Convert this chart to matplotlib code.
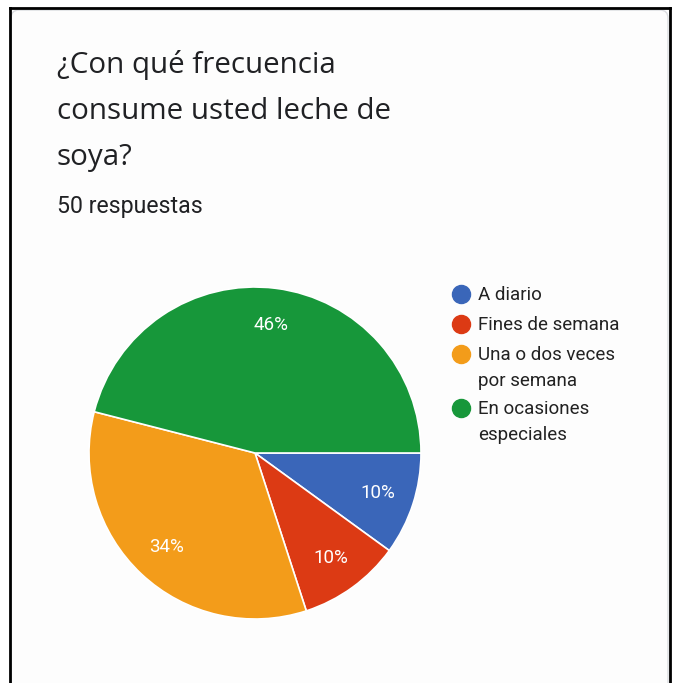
import matplotlib.pyplot as plt
from matplotlib.patches import FancyBboxPatch
from matplotlib.lines import Line2D

# Respuestas de la encuesta
categorias = ['A diario', 'Fines de semana', 'Una o dos veces\npor semana', 'En ocasiones\nespeciales']
respuestas = [5, 5, 17, 23]
colores = ['#3A66B9', '#DC3A14', '#F39C1A', '#17973A']
titulo = '¿Con qué frecuencia\nconsume usted leche de\nsoya?'
subtitulo = '50 respuestas'

W, H = 673, 683
fig = plt.figure(figsize=(W / 100, H / 100), dpi=100)
fig.patch.set_facecolor('white')

# tarjeta con borde gris redondeado
card = FancyBboxPatch((11 / W, -10 / H), 657 / W, 683 / H,
                      boxstyle='round,pad=0,rounding_size=0.012',
                      transform=fig.transFigure, facecolor='#FDFDFD',
                      edgecolor='#DADCE0', linewidth=1.0, zorder=-5)
fig.add_artist(card)

# marco negro (izquierda, arriba, derecha)
for xs, ys in [([9.5, 9.5], [0, 675]), ([9.5, 670], [675, 675]), ([670, 670], [0, 675])]:
    fig.add_artist(Line2D([x / W for x in xs], [y / H for y in ys],
                          transform=fig.transFigure, color='black', linewidth=2))

fig.text(57 / W, 1 - 50 / H, titulo, fontsize=21.3, family='Open Sans',
         color='#202124', va='top', ha='left', linespacing=1.78)
fig.text(57 / W, 1 - 207 / H, subtitulo, fontsize=16.7, family='Roboto',
         color='#202124', va='center', ha='left')

# pastel
cx, cy, r = 255, 453, 166
ax = fig.add_axes([(cx - r) / W, (H - cy - r) / H, 2 * r / W, 2 * r / H])
ax.patch.set_visible(False)
wedges, _, pcts = ax.pie(respuestas, colors=colores, startangle=0, counterclock=False,
                         autopct=lambda p: f'{round(p)}%', pctdistance=0.78,
                         wedgeprops=dict(edgecolor='white', linewidth=1.2),
                         textprops=dict(color='white', fontsize=13.5, family='Roboto'))
ax.set_xlim(-1, 1)
ax.set_ylim(-1, 1)
ax.set_aspect('equal')

# leyenda
filas = [294, 324, 354, 408]
for cat, col, y in zip(categorias, colores, filas):
    fig.add_artist(Line2D([461 / W], [1 - y / H], marker='o', markersize=13,
                          color=col, linestyle='none', transform=fig.transFigure))
    fig.text(478 / W, 1 - (y - 8) / H, cat, fontsize=13.5, family='Roboto',
             color='#222222', va='top', ha='left', linespacing=1.6)

fig.savefig('out.png', dpi=100)
